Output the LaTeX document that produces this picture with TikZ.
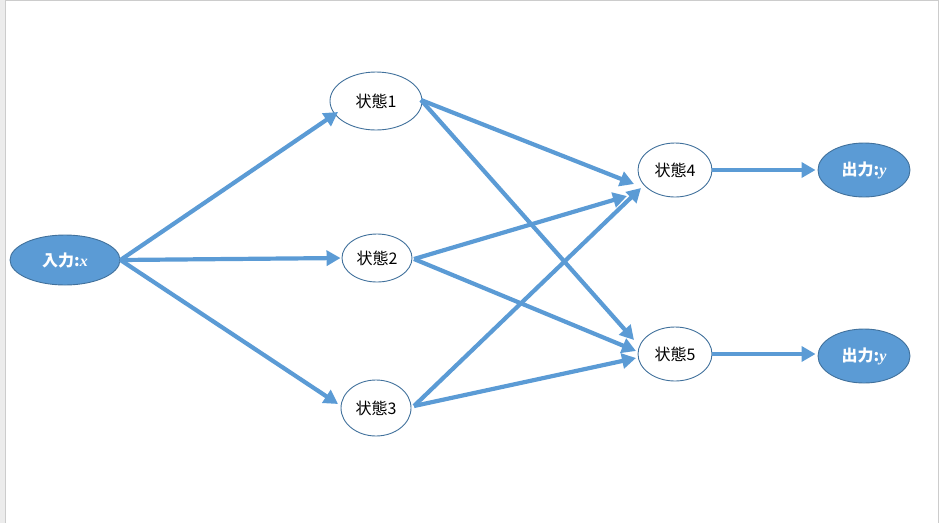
\documentclass[tikz,border=0pt]{standalone}
\usepackage{fontspec}
\newfontfamily\cjk{Noto Sans CJK JP}
\setmainfont{Liberation Serif}
\usetikzlibrary{shapes.geometric,arrows.meta}
\definecolor{fillblue}{HTML}{5B9BD5}
\definecolor{edgeblue}{HTML}{41719C}
\tikzset{
  statebox/.style={ellipse,draw=edgeblue,line width=0.9pt,fill=white,inner sep=0pt,font=\cjk\fontsize{16}{18}\selectfont},
  iobox/.style={ellipse,draw=edgeblue,line width=0.9pt,fill=fillblue,text=white,inner sep=0pt,font=\cjk\bfseries\fontsize{16}{18}\selectfont},
  flow/.style={draw=fillblue,line width=4.2pt,-{Triangle[length=14pt,width=15pt]}}
}
\newcommand{\vname}[1]{{\rmfamily\bfseries\itshape #1}}
\begin{document}
\begin{tikzpicture}[x=1pt,y=-1pt]
\useasboundingbox (0,0) rectangle (940,523);
\fill[gray!15] (0,0) rectangle (5,523);
\draw[gray!40,line width=1pt] (5.5,523) -- (5.5,0.5) -- (938.5,0.5) -- (938.5,523);
\node[iobox,minimum width=110,minimum height=50] (in) at (65,260) {入力:\vname{x}};
\node[statebox,minimum width=92,minimum height=58] (s1) at (376,101) {状態1};
\node[statebox,minimum width=70,minimum height=48] (s2) at (377,258) {状態2};
\node[statebox,minimum width=70,minimum height=56] (s3) at (376,408) {状態3};
\node[statebox,minimum width=74,minimum height=54] (s4) at (675,170) {状態4};
\node[statebox,minimum width=74,minimum height=54] (s5) at (675,354) {状態5};
\node[iobox,minimum width=92,minimum height=54] (o1) at (864,170) {出力:\vname{y}};
\node[iobox,minimum width=92,minimum height=54] (o2) at (864,356) {出力:\vname{y}};
% start points and arrow tips
\coordinate (a1) at (421,100);
\coordinate (a2) at (414,259);
\coordinate (a3) at (414,406);
\coordinate (t14) at (634,184);
\coordinate (t24) at (627,196);
\coordinate (t34) at (641,188);
\coordinate (t15) at (634,340);
\coordinate (t25) at (636,351);
\coordinate (t35) at (636,358);
\draw[flow] (in.east) -- (338,112) coordinate (ti1);
\draw[flow,shorten >=1pt] (in.east) -- (s2.west);
\draw[flow] (in.east) -- (338,404) coordinate (ti3);
\draw[flow] (a1) -- (t14);
\draw[flow] (a1) -- (t15);
\draw[flow] (a2) -- (t24);
\draw[flow] (a2) -- (t25);
\draw[flow] (a3) -- (t34);
\draw[flow] (a3) -- (t35);
\draw[flow,shorten >=2pt] (s4.east) -- (o1.west);
\draw[flow,shorten >=2pt] (s5.east) -- (s5.east -| o2.west);
\end{tikzpicture}
\end{document}
